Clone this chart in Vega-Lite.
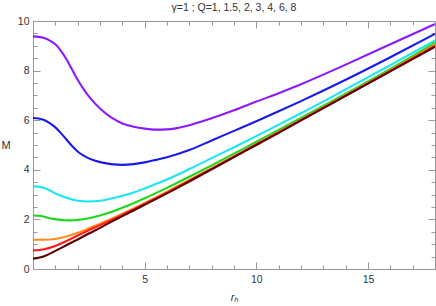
{
  "$schema": "https://vega.github.io/schema/vega-lite/v6.json",
  "autosize": "none",
  "width": 402,
  "height": 248,
  "padding": {"left": 33, "top": 21, "right": 1, "bottom": 37},
  "background": "white",
  "config": {"view": {"stroke": null}, "font": "Liberation Sans"},
  "title": {"text": "γ=1 ; Q=1, 1.5, 2, 3, 4, 6, 8", "fontSize": 10.5, "fontWeight": "normal", "color": "#333", "font": "Liberation Sans", "anchor": "middle", "offset": 3},
  "data": {"values": [
    {"Q":"8","r":0,"M":9.38},{"Q":"8","r":0.25,"M":9.36},{"Q":"8","r":0.5,"M":9.31},{"Q":"8","r":0.75,"M":9.21},{"Q":"8","r":1,"M":9.06},{"Q":"8","r":1.25,"M":8.8},{"Q":"8","r":1.5,"M":8.46},{"Q":"8","r":1.75,"M":8.04},{"Q":"8","r":2,"M":7.63},{"Q":"8","r":2.25,"M":7.27},{"Q":"8","r":2.5,"M":6.96},{"Q":"8","r":3,"M":6.47},{"Q":"8","r":3.5,"M":6.11},{"Q":"8","r":4,"M":5.87},{"Q":"8","r":4.5,"M":5.74},{"Q":"8","r":5,"M":5.66},{"Q":"8","r":5.5,"M":5.62},{"Q":"8","r":6,"M":5.63},{"Q":"8","r":7,"M":5.8},{"Q":"8","r":8,"M":6.08},{"Q":"8","r":9,"M":6.4},{"Q":"8","r":10,"M":6.75},{"Q":"8","r":11,"M":7.09},{"Q":"8","r":12,"M":7.45},{"Q":"8","r":14,"M":8.24},{"Q":"8","r":16,"M":9.06},{"Q":"8","r":18,"M":9.88},
    {"Q":"6","r":0,"M":6.09},{"Q":"6","r":0.25,"M":6.07},{"Q":"6","r":0.5,"M":6.01},{"Q":"6","r":0.75,"M":5.88},{"Q":"6","r":1,"M":5.71},{"Q":"6","r":1.25,"M":5.48},{"Q":"6","r":1.5,"M":5.22},{"Q":"6","r":1.75,"M":4.96},{"Q":"6","r":2,"M":4.74},{"Q":"6","r":2.25,"M":4.58},{"Q":"6","r":2.5,"M":4.46},{"Q":"6","r":3,"M":4.31},{"Q":"6","r":3.5,"M":4.23},{"Q":"6","r":4,"M":4.2},{"Q":"6","r":4.5,"M":4.23},{"Q":"6","r":5,"M":4.3},{"Q":"6","r":5.5,"M":4.4},{"Q":"6","r":6,"M":4.51},{"Q":"6","r":7,"M":4.8},{"Q":"6","r":8,"M":5.18},{"Q":"6","r":9,"M":5.57},{"Q":"6","r":10,"M":5.96},{"Q":"6","r":11,"M":6.36},{"Q":"6","r":12,"M":6.77},{"Q":"6","r":14,"M":7.63},{"Q":"6","r":16,"M":8.54},{"Q":"6","r":18,"M":9.48},
    {"Q":"4","r":0,"M":3.33},{"Q":"4","r":0.25,"M":3.32},{"Q":"4","r":0.5,"M":3.27},{"Q":"4","r":0.75,"M":3.17},{"Q":"4","r":1,"M":3.05},{"Q":"4","r":1.25,"M":2.95},{"Q":"4","r":1.5,"M":2.87},{"Q":"4","r":1.75,"M":2.8},{"Q":"4","r":2,"M":2.75},{"Q":"4","r":2.5,"M":2.72},{"Q":"4","r":3,"M":2.75},{"Q":"4","r":3.5,"M":2.84},{"Q":"4","r":4,"M":2.95},{"Q":"4","r":4.5,"M":3.08},{"Q":"4","r":5,"M":3.25},{"Q":"4","r":5.5,"M":3.43},{"Q":"4","r":6,"M":3.61},{"Q":"4","r":7,"M":4.03},{"Q":"4","r":8,"M":4.47},{"Q":"4","r":9,"M":4.91},{"Q":"4","r":10,"M":5.36},{"Q":"4","r":11,"M":5.82},{"Q":"4","r":12,"M":6.28},{"Q":"4","r":14,"M":7.24},{"Q":"4","r":16,"M":8.22},{"Q":"4","r":18,"M":9.22},
    {"Q":"3","r":0,"M":2.16},{"Q":"3","r":0.25,"M":2.15},{"Q":"3","r":0.5,"M":2.11},{"Q":"3","r":0.75,"M":2.05},{"Q":"3","r":1,"M":2.01},{"Q":"3","r":1.25,"M":1.98},{"Q":"3","r":1.5,"M":1.96},{"Q":"3","r":1.75,"M":1.96},{"Q":"3","r":2,"M":1.98},{"Q":"3","r":2.5,"M":2.05},{"Q":"3","r":3,"M":2.16},{"Q":"3","r":3.5,"M":2.3},{"Q":"3","r":4,"M":2.47},{"Q":"3","r":4.5,"M":2.65},{"Q":"3","r":5,"M":2.85},{"Q":"3","r":5.5,"M":3.06},{"Q":"3","r":6,"M":3.27},{"Q":"3","r":7,"M":3.72},{"Q":"3","r":8,"M":4.18},{"Q":"3","r":9,"M":4.65},{"Q":"3","r":10,"M":5.13},{"Q":"3","r":11,"M":5.61},{"Q":"3","r":12,"M":6.09},{"Q":"3","r":14,"M":7.07},{"Q":"3","r":16,"M":8.07},{"Q":"3","r":18,"M":9.13},
    {"Q":"2","r":0,"M":1.18},{"Q":"2","r":0.5,"M":1.18},{"Q":"2","r":1,"M":1.21},{"Q":"2","r":1.5,"M":1.31},{"Q":"2","r":2,"M":1.46},{"Q":"2","r":2.5,"M":1.64},{"Q":"2","r":3,"M":1.83},{"Q":"2","r":3.5,"M":2.02},{"Q":"2","r":4,"M":2.23},{"Q":"2","r":4.5,"M":2.44},{"Q":"2","r":5,"M":2.66},{"Q":"2","r":5.5,"M":2.89},{"Q":"2","r":6,"M":3.12},{"Q":"2","r":7,"M":3.59},{"Q":"2","r":8,"M":4.07},{"Q":"2","r":9,"M":4.55},{"Q":"2","r":10,"M":5.04},{"Q":"2","r":11,"M":5.53},{"Q":"2","r":12,"M":6.02},{"Q":"2","r":14,"M":7.01},{"Q":"2","r":16,"M":8.01},{"Q":"2","r":18,"M":9.05},
    {"Q":"1.5","r":0,"M":0.75},{"Q":"1.5","r":0.5,"M":0.8},{"Q":"1.5","r":1,"M":0.93},{"Q":"1.5","r":1.5,"M":1.13},{"Q":"1.5","r":2,"M":1.35},{"Q":"1.5","r":2.5,"M":1.56},{"Q":"1.5","r":3,"M":1.77},{"Q":"1.5","r":3.5,"M":1.97},{"Q":"1.5","r":4,"M":2.18},{"Q":"1.5","r":4.5,"M":2.4},{"Q":"1.5","r":5,"M":2.62},{"Q":"1.5","r":5.5,"M":2.85},{"Q":"1.5","r":6,"M":3.08},{"Q":"1.5","r":7,"M":3.56},{"Q":"1.5","r":8,"M":4.04},{"Q":"1.5","r":9,"M":4.53},{"Q":"1.5","r":10,"M":5.02},{"Q":"1.5","r":11,"M":5.51},{"Q":"1.5","r":12,"M":6.0},{"Q":"1.5","r":14,"M":6.99},{"Q":"1.5","r":16,"M":7.99},{"Q":"1.5","r":18,"M":9.0},
    {"Q":"1","r":0,"M":0.41},{"Q":"1","r":0.5,"M":0.51},{"Q":"1","r":1,"M":0.73},{"Q":"1","r":1.5,"M":0.96},{"Q":"1","r":2,"M":1.19},{"Q":"1","r":2.5,"M":1.43},{"Q":"1","r":3,"M":1.66},{"Q":"1","r":3.5,"M":1.9},{"Q":"1","r":4,"M":2.13},{"Q":"1","r":4.5,"M":2.36},{"Q":"1","r":5,"M":2.59},{"Q":"1","r":5.5,"M":2.82},{"Q":"1","r":6,"M":3.05},{"Q":"1","r":7,"M":3.53},{"Q":"1","r":8,"M":4.02},{"Q":"1","r":9,"M":4.51},{"Q":"1","r":10,"M":5.0},{"Q":"1","r":11,"M":5.49},{"Q":"1","r":12,"M":5.99},{"Q":"1","r":14,"M":6.98},{"Q":"1","r":16,"M":7.97},{"Q":"1","r":18,"M":8.96}
  ]},
  "resolve": {"axis": {"x": "independent", "y": "independent"}},
  "layer": [
    {
      "mark": {"type": "line", "strokeWidth": 2.1, "interpolate": "monotone", "clip": true},
      "encoding": {
        "x": {"field": "r", "type": "quantitative", "scale": {"domain": [0, 18], "nice": false, "zero": false},
          "axis": {"orient": "bottom", "values": [0,1,2,3,4,5,6,7,8,9,10,11,12,13,14,15,16,17,18], "grid": false, "domainColor": "#999", "tickColor": "#999", "tickWidth": 1,
            "tickSize": {"condition": {"test": "datum.value % 5 === 0", "value": -7}, "value": -4},
            "labelExpr": "datum.value % 5 === 0 && datum.value > 0 ? '' + datum.value : ''", "labelFontSize": 10.5, "labelColor": "#333", "labelPadding": 12.5, "labelFlush": false, "labelOverlap": false,
            "title": "rₕ", "titleFontStyle": "italic", "titleFontWeight": "normal", "titleFontSize": 11, "titleColor": "#333", "titleX": 201, "titleY": 28, "titleBaseline": "middle", "titleAlign": "center"}},
        "y": {"field": "M", "type": "quantitative", "scale": {"domain": [0, 10], "nice": false},
          "axis": {"orient": "left", "values": [0,0.5,1,1.5,2,2.5,3,3.5,4,4.5,5,5.5,6,6.5,7,7.5,8,8.5,9,9.5,10], "grid": false, "domainColor": "#999", "tickColor": "#999", "tickWidth": 1,
            "tickSize": {"condition": {"test": "datum.value % 2 === 0", "value": -7}, "value": -4},
            "labelExpr": "datum.value % 2 === 0 ? '' + datum.value : ''", "labelFontSize": 10.5, "labelColor": "#333", "labelPadding": 11, "labelFlush": false, "labelOverlap": false,
            "title": "M", "titleAngle": 0, "titleFontWeight": "normal", "titleFontSize": 11, "titleColor": "#333", "titleX": -27.5, "titleY": 124, "titleBaseline": "middle", "titleAlign": "center"}},
        "color": {"field": "Q", "type": "nominal", "legend": null,
          "scale": {"domain": ["1","1.5","2","3","4","6","8"], "range": ["#5c0000","#ff1a1a","#ff8c1a","#1ad91a","#1ae6f0","#1a1ae6","#8c1aff"]}}
      }
    },
    {
      "mark": {"type": "line", "opacity": 0},
      "encoding": {
        "x": {"field": "r", "type": "quantitative",
          "axis": {"orient": "top", "values": [0,1,2,3,4,5,6,7,8,9,10,11,12,13,14,15,16,17,18], "grid": false, "labels": false, "title": null, "domainColor": "#999", "tickColor": "#999", "tickWidth": 1,
            "tickSize": {"condition": {"test": "datum.value % 5 === 0", "value": -7}, "value": -4}}},
        "y": {"field": "M", "type": "quantitative",
          "axis": {"orient": "right", "values": [0,0.5,1,1.5,2,2.5,3,3.5,4,4.5,5,5.5,6,6.5,7,7.5,8,8.5,9,9.5,10], "grid": false, "labels": false, "title": null, "domainColor": "#999", "tickColor": "#999", "tickWidth": 1,
            "tickSize": {"condition": {"test": "datum.value % 2 === 0", "value": -7}, "value": -4}}},
        "detail": {"field": "Q", "type": "nominal"}
      }
    }
  ]
}
